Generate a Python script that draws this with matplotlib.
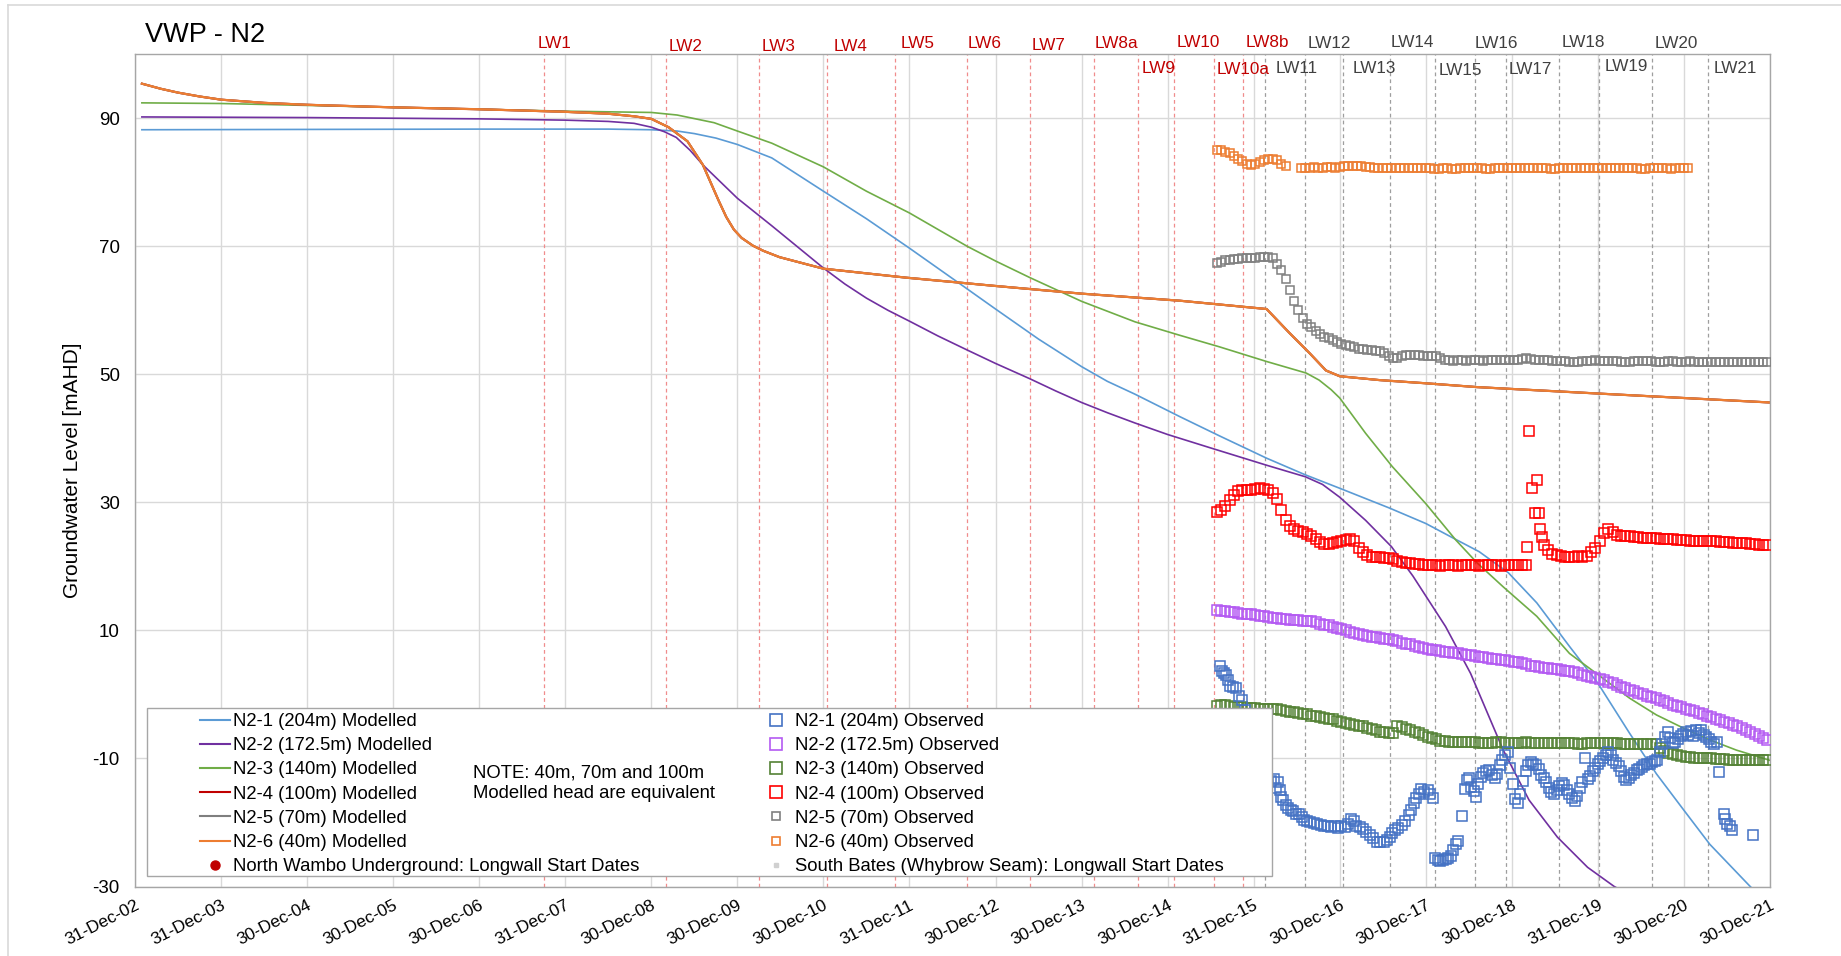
import numpy as np
import matplotlib
matplotlib.use("Agg")
import matplotlib.pyplot as plt
from matplotlib.lines import Line2D
from matplotlib.patches import Rectangle
from matplotlib.transforms import offset_copy

plt.rcParams['font.family'] = ['Liberation Sans', 'DejaVu Sans']
plt.rcParams['axes.unicode_minus'] = False

# ----------------------------------------------------------------- data
x_tick_labels = ['31-Dec-02', '31-Dec-03', '30-Dec-04', '30-Dec-05', '30-Dec-06',
                 '31-Dec-07', '30-Dec-08', '30-Dec-09', '30-Dec-10', '31-Dec-11',
                 '30-Dec-12', '30-Dec-13', '30-Dec-14', '31-Dec-15', '30-Dec-16',
                 '30-Dec-17', '30-Dec-18', '31-Dec-19', '30-Dec-20', '30-Dec-21']
x_first_year = 2003.0          # 31-Dec-02 expressed as decimal year
y_ticks = [-30, -10, 10, 30, 50, 70, 90]

# Modelled heads (decimal year, mAHD)
n21_mod_t = [2003.08, 2005.0, 2007.0, 2008.5, 2009.0, 2009.3, 2009.5, 2009.75, 2010.0, 2010.4,
             2011.0, 2011.5, 2012.0, 2012.58, 2013.0, 2013.5, 2014.0, 2014.3, 2014.62, 2015.14,
             2015.6, 2016.15, 2016.6, 2017.0, 2017.58, 2018.0, 2018.35, 2018.62, 2018.96, 2019.29,
             2019.67, 2020.0, 2020.37, 2020.68, 2021.0, 2021.3, 2021.77, 2022.0]
n21_mod_v = [88.2, 88.25, 88.3, 88.3, 88.2, 88.0, 87.6, 86.9, 85.9, 83.8,
             78.6, 74.3, 69.7, 64.2, 60.2, 55.5, 51.2, 48.9, 46.9, 43.4,
             40.4, 36.9, 34.3, 32.2, 29.1, 26.7, 24.2, 22.3, 19.0, 14.3,
             7.5, 1.75, -6.1, -12.4, -18.1, -23.4, -30.0, -33.0]

n22_mod_t = [2003.08, 2005.0, 2007.0, 2008.0, 2008.5, 2008.8, 2009.0, 2009.15, 2009.29, 2009.45,
             2009.6, 2010.0, 2010.4, 2011.0, 2011.25, 2011.5, 2011.75, 2012.0, 2012.33, 2012.67,
             2013.0, 2013.4, 2013.7, 2014.0, 2014.3, 2014.62, 2015.0, 2015.5, 2016.15, 2016.6,
             2016.8, 2017.0, 2017.3, 2017.6, 2017.85, 2018.23, 2018.52, 2018.9, 2019.2, 2019.53,
             2019.88, 2020.19, 2020.6]
n22_mod_v = [90.2, 90.1, 89.9, 89.7, 89.5, 89.2, 88.6, 87.9, 87.0, 85.0,
             82.7, 77.5, 73.2, 66.6, 64.1, 61.9, 60.0, 58.3, 56.0, 53.8,
             51.7, 49.3, 47.4, 45.6, 44.0, 42.4, 40.6, 38.5, 35.8, 34.0,
             32.8, 30.8, 27.2, 23.1, 18.5, 10.6, 3.3, -8.7, -16.5, -22.3,
             -27.0, -30.0, -33.0]

n23_mod_t = [2003.08, 2004.0, 2005.0, 2006.0, 2007.0, 2008.0, 2008.5, 2009.0, 2009.3, 2009.73,
             2010.0, 2010.4, 2011.0, 2011.5, 2012.0, 2012.67, 2013.0, 2013.4, 2014.0, 2014.62,
             2015.14, 2015.6, 2016.15, 2016.61, 2016.76, 2016.9, 2017.0, 2017.3, 2017.61, 2018.0,
             2018.35, 2018.6, 2018.9, 2019.29, 2019.67, 2020.0, 2020.37, 2020.68, 2021.0, 2021.3,
             2021.61, 2022.0]
n23_mod_v = [92.4, 92.3, 92.0, 91.7, 91.4, 91.1, 91.0, 90.9, 90.5, 89.3,
             88.0, 86.1, 82.4, 78.6, 75.2, 70.0, 67.7, 65.1, 61.4, 58.2,
             56.1, 54.3, 52.0, 50.2, 49.1, 47.6, 46.3, 40.8, 35.6, 29.8,
             24.1, 20.5, 16.8, 12.2, 6.4, 3.1, -0.6, -3.2, -5.3, -7.1,
             -8.7, -10.3]

# N2-4, N2-5 and N2-6 modelled heads are equivalent (one shared curve)
n26_mod_t = [2003.08, 2003.3, 2003.5, 2003.75, 2004.0, 2004.5, 2005.0, 2006.0, 2007.0, 2008.0,
             2008.5, 2008.8, 2009.0, 2009.2, 2009.42, 2009.6, 2009.78, 2009.87, 2009.96, 2010.05,
             2010.18, 2010.3, 2010.49, 2011.0, 2011.96, 2013.0, 2014.0, 2015.14, 2016.15, 2016.42,
             2016.65, 2016.84, 2017.0, 2017.46, 2018.0, 2018.6, 2020.0, 2022.0]
n26_mod_v = [95.4, 94.6, 94.0, 93.4, 92.9, 92.4, 92.1, 91.7, 91.4, 91.0,
             90.7, 90.3, 89.9, 88.6, 86.4, 82.7, 77.2, 74.6, 72.6, 71.3,
             70.1, 69.3, 68.3, 66.5, 65.1, 63.8, 62.6, 61.5, 60.2, 56.4,
             53.3, 50.6, 49.7, 49.1, 48.6, 48.0, 47.0, 45.6]

# Observed heads: regular logger readings every 0.05 yr from the given start
obs_step = 0.05

n26_obs_a_start = 2015.57
n26_obs_a_v = [85.1, 85.0, 84.8, 84.5, 84.1, 83.7, 83.3, 82.9, 82.7, 82.9,
               83.2, 83.5, 83.6, 83.6, 83.4, 82.9, 82.6]
n26_obs_b_start = 2016.55
n26_obs_b_v = [82.3, 82.3, 82.3, 82.4, 82.3, 82.3, 82.4, 82.4, 82.3, 82.4,
               82.5, 82.6, 82.6, 82.5, 82.5, 82.4, 82.4, 82.3, 82.3, 82.3,
               82.3, 82.2, 82.3, 82.3, 82.2, 82.2, 82.2, 82.3, 82.2, 82.2,
               82.2, 82.1, 82.1, 82.2, 82.2, 82.1, 82.1, 82.2, 82.2, 82.2,
               82.2, 82.2, 82.2, 82.1, 82.1, 82.2, 82.2, 82.2, 82.3, 82.3,
               82.3, 82.2, 82.2, 82.2, 82.3, 82.3, 82.2, 82.2, 82.1, 82.1,
               82.2, 82.2, 82.3, 82.3, 82.2, 82.2, 82.2, 82.3, 82.3, 82.2,
               82.2, 82.2, 82.2, 82.3, 82.2, 82.2, 82.2, 82.2, 82.2, 82.1,
               82.1, 82.2, 82.2, 82.2, 82.2, 82.2, 82.1, 82.2, 82.2, 82.2, 82.2]

n25_obs_start = 2015.57
n25_obs_v = [67.4, 67.6, 67.8, 67.9, 68.0, 68.0, 68.1, 68.1, 68.2, 68.2,
             68.3, 68.3, 68.3, 68.2, 67.2, 66.3, 64.9, 63.2, 61.5, 60.0,
             58.8, 57.9, 57.4, 56.8, 56.3, 55.9, 55.6, 55.3, 55.0, 54.8,
             54.6, 54.4, 54.2, 54.0, 53.9, 53.8, 53.8, 53.7, 53.7, 53.3,
             52.9, 52.6, 52.6, 52.8, 53.0, 53.0, 53.0, 53.0, 52.9, 52.9,
             52.9, 52.8, 52.5, 52.2, 52.2, 52.1, 52.2, 52.2, 52.1, 52.2,
             52.2, 52.2, 52.1, 52.2, 52.2, 52.3, 52.2, 52.2, 52.2, 52.3,
             52.3, 52.4, 52.5, 52.4, 52.3, 52.2, 52.2, 52.2, 52.1, 52.1,
             52.1, 52.1, 52.0, 52.0, 52.0, 52.1, 52.1, 52.1, 52.2, 52.1,
             52.1, 52.1, 52.1, 52.1, 52.0, 52.0, 52.0, 52.1, 52.1, 52.1,
             52.1, 52.1, 52.0, 52.0, 52.0, 52.1, 52.1, 52.0, 52.0, 52.0,
             52.1, 52.0, 52.0, 52.0, 52.0, 52.0, 51.9, 51.9, 52.0, 52.0,
             52.0, 51.9, 51.9, 51.9, 51.9, 51.9, 51.9, 51.9, 51.9]

n24_obs_a_start = 2015.57
n24_obs_a_v = [28.5, 28.8, 29.4, 30.4, 31.2, 31.7, 31.9, 31.9, 32.0, 32.1,
               32.2, 32.1, 31.9, 31.4, 30.5, 28.8, 27.2, 26.3, 25.8, 25.5,
               25.4, 25.0, 24.7, 24.3, 23.8, 23.5, 23.5, 23.6, 23.8, 24.0,
               24.1, 24.2, 24.0, 22.8, 22.2, 21.8, 21.5, 21.4, 21.4, 21.3,
               21.3, 21.2, 20.9, 20.7, 20.5, 20.5, 20.3, 20.3, 20.2, 20.2,
               20.2, 20.2, 20.1, 20.2, 20.2, 20.2, 20.1, 20.2, 20.2, 20.2,
               20.2, 20.1, 20.2, 20.2, 20.2, 20.2, 20.1, 20.2, 20.2, 20.2,
               20.2, 20.2, 20.2]
n24_obs_mid_t = [2019.18, 2019.20, 2019.23, 2019.27, 2019.29, 2019.32, 2019.33, 2019.35]
n24_obs_mid_v = [23.0, 41.1, 32.2, 28.4, 33.5, 28.4, 25.9, 24.6]
n24_obs_b_start = 2019.37
n24_obs_b_v = [23.3, 22.6, 22.0, 21.8, 21.6, 21.5, 21.5, 21.5, 21.6, 21.5,
               21.7, 22.2, 22.9, 24.0, 25.2, 25.8, 25.4, 24.9, 24.8, 24.7,
               24.7, 24.6, 24.6, 24.5, 24.5, 24.4, 24.4, 24.3, 24.3, 24.2,
               24.2, 24.1, 24.1, 24.1, 24.0, 24.0, 24.0, 23.9, 23.9, 23.9,
               23.9, 23.8, 23.8, 23.8, 23.7, 23.7, 23.6, 23.6, 23.5, 23.5,
               23.4, 23.4, 23.3]

n22_obs_start = 2015.57
n22_obs_v = [13.2, 13.1, 13.0, 12.9, 12.8, 12.7, 12.6, 12.5, 12.5, 12.4,
             12.3, 12.2, 12.1, 12.0, 11.9, 11.8, 11.8, 11.7, 11.6, 11.6,
             11.5, 11.5, 11.4, 11.3, 11.0, 10.9, 10.8, 10.6, 10.4, 10.2,
             10.1, 9.8, 9.6, 9.4, 9.3, 9.1, 9.0, 8.9, 8.8, 8.7,
             8.6, 8.5, 8.3, 8.1, 7.9, 7.8, 7.6, 7.4, 7.2, 7.1,
             7.0, 6.9, 6.8, 6.7, 6.6, 6.5, 6.4, 6.3, 6.2, 6.1,
             6.0, 5.9, 5.8, 5.7, 5.6, 5.5, 5.4, 5.3, 5.2, 5.1,
             5.0, 4.9, 4.7, 4.5, 4.4, 4.3, 4.2, 4.1, 4.0, 3.9,
             3.8, 3.7, 3.6, 3.5, 3.3, 3.1, 2.9, 2.7, 2.5, 2.4,
             2.2, 2.0, 1.8, 1.5, 1.2, 1.0, 0.7, 0.5, 0.3, 0.0,
             -0.2, -0.4, -0.6, -0.9, -1.1, -1.3, -1.6, -1.8, -2.0, -2.2,
             -2.4, -2.6, -2.9, -3.1, -3.3, -3.6, -3.8, -4.0, -4.3, -4.5,
             -4.7, -5.0, -5.3, -5.6, -5.9, -6.2, -6.5, -6.8, -7.1]

n23_obs_start = 2015.57
n23_obs_v = [-1.8, -1.7, -1.7, -1.8, -1.9, -2.0, -2.0, -2.1, -2.1, -2.1,
             -2.2, -2.2, -2.3, -2.3, -2.3, -2.4, -2.6, -2.7, -2.8, -2.9,
             -3.0, -3.1, -3.3, -3.4, -3.6, -3.7, -3.8, -3.9, -4.1, -4.3,
             -4.5, -4.6, -4.8, -4.9, -5.0, -5.2, -5.4, -5.6, -5.8, -5.9,
             -6.0, -6.1, -4.9, -5.1, -5.4, -5.6, -5.8, -6.1, -6.4, -6.6,
             -6.8, -7.0, -7.2, -7.3, -7.4, -7.4, -7.5, -7.5, -7.5, -7.5,
             -7.5, -7.6, -7.6, -7.6, -7.6, -7.5, -7.5, -7.6, -7.6, -7.6,
             -7.6, -7.6, -7.5, -7.6, -7.6, -7.6, -7.6, -7.6, -7.6, -7.6,
             -7.6, -7.6, -7.6, -7.6, -7.7, -7.7, -7.6, -7.6, -7.6, -7.6,
             -7.6, -7.6, -7.6, -7.6, -7.7, -7.7, -7.7, -7.7, -7.7, -7.7,
             -7.7, -7.7, -7.8, -8.3, -8.8, -9.1, -9.3, -9.5, -9.6, -9.7,
             -9.8, -9.9, -9.9, -10.0, -10.0, -10.0, -10.1, -10.1, -10.1, -10.2,
             -10.2, -10.2, -10.2, -10.3, -10.3, -10.3, -10.3, -10.3, -10.3]

n21_obs_t = [2015.61, 2015.63, 2015.65, 2015.68, 2015.70, 2015.72, 2015.76, 2015.80, 2015.83, 2015.86,
             2015.90, 2015.95, 2016.00, 2016.05, 2016.10, 2016.15, 2016.20, 2016.24, 2016.26, 2016.28,
             2016.30, 2016.32, 2016.34, 2016.37, 2016.40, 2016.43, 2016.46, 2016.49, 2016.53, 2016.56,
             2016.59, 2016.62, 2016.66, 2016.70, 2016.74, 2016.78, 2016.82, 2016.86, 2016.90, 2016.94,
             2016.98, 2017.02, 2017.06, 2017.10, 2017.13, 2017.16, 2017.19, 2017.23, 2017.27, 2017.31,
             2017.35, 2017.39, 2017.43, 2017.47, 2017.51, 2017.55, 2017.58, 2017.61, 2017.64, 2017.68,
             2017.72, 2017.76, 2017.80, 2017.83, 2017.86, 2017.89, 2017.92, 2017.95, 2017.98, 2018.02,
             2018.05, 2018.08, 2018.11, 2018.14, 2018.17, 2018.20, 2018.23, 2018.26, 2018.29, 2018.32,
             2018.35, 2018.37, 2018.42, 2018.45, 2018.48, 2018.50, 2018.53, 2018.56, 2018.58, 2018.61,
             2018.64, 2018.67, 2018.70, 2018.74, 2018.77, 2018.80, 2018.83, 2018.86, 2018.89, 2018.92,
             2018.95, 2018.98, 2019.01, 2019.04, 2019.07, 2019.10, 2019.13, 2019.16, 2019.19, 2019.22,
             2019.25, 2019.28, 2019.31, 2019.34, 2019.37, 2019.40, 2019.43, 2019.46, 2019.49, 2019.52,
             2019.55, 2019.58, 2019.61, 2019.64, 2019.67, 2019.70, 2019.73, 2019.76, 2019.79, 2019.82,
             2019.85, 2019.88, 2019.91, 2019.94, 2019.97, 2020.00, 2020.03, 2020.06, 2020.09, 2020.12,
             2020.15, 2020.18, 2020.21, 2020.24, 2020.27, 2020.30, 2020.33, 2020.36, 2020.39, 2020.42,
             2020.45, 2020.48, 2020.51, 2020.54, 2020.57, 2020.60, 2020.63, 2020.66, 2020.69, 2020.72,
             2020.75, 2020.78, 2020.81, 2020.84, 2020.87, 2020.90, 2020.93, 2020.96, 2020.99, 2021.02,
             2021.05, 2021.08, 2021.11, 2021.14, 2021.17, 2021.20, 2021.23, 2021.26, 2021.29, 2021.32,
             2021.35, 2021.38, 2021.41, 2021.46, 2021.48, 2021.50, 2021.53, 2021.56, 2021.80]
n21_obs_v = [4.4, 3.6, 3.3, 3.1, 2.2, 1.3, 1.1, 1.0, -0.3, -0.8,
             -2.5, -4.5, -7.0, -9.5, -11.5, -12.8, -13.5, -13.2, -14.6, -13.7,
             -15.0, -16.0, -16.5, -17.2, -17.8, -18.0, -18.2, -18.6, -18.6, -19.2,
             -19.6, -19.7, -19.9, -20.1, -20.3, -20.4, -20.6, -20.5, -20.7, -20.6,
             -20.8, -20.6, -20.7, -20.2, -19.4, -19.8, -20.5, -20.7, -21.0, -21.5,
             -21.9, -22.4, -23.0, -23.1, -23.0, -22.7, -22.3, -21.7, -21.2, -20.8,
             -20.4, -19.8, -18.9, -18.0, -17.0, -16.2, -15.5, -14.8, -15.3, -14.9,
             -15.6, -16.2, -25.5, -25.9, -26.0, -25.8, -25.7, -25.6, -25.3, -24.3,
             -23.3, -22.9, -19.0, -14.7, -13.4, -13.0, -14.4, -15.1, -16.0, -14.0,
             -12.9, -12.3, -11.9, -11.8, -12.6, -13.0, -12.4, -11.0, -10.3, -9.5,
             -9.0, -11.5, -14.0, -16.4, -17.0, -15.6, -13.5, -12.0, -11.0, -10.6,
             -10.9, -11.0, -11.6, -12.6, -13.0, -13.6, -14.6, -15.3, -15.6, -15.0,
             -14.3, -13.9, -14.2, -15.0, -15.6, -16.2, -16.6, -15.8, -14.6, -13.6,
             -9.9, -13.2, -12.7, -12.0, -11.5, -10.9, -10.4, -9.9, -9.4, -9.0,
             -9.5, -10.3, -10.7, -11.2, -12.0, -12.9, -13.4, -13.0, -12.6, -12.2,
             -11.8, -11.6, -11.3, -11.1, -10.9, -10.8, -10.6, -10.4, -10.2, -9.0,
             -7.8, -6.6, -5.8, -6.8, -7.6, -7.4, -7.0, -6.5, -6.2, -5.9,
             -6.3, -5.7, -6.5, -5.6, -6.0, -5.5, -6.3, -6.6, -7.0, -7.4,
             -7.8, -7.5, -12.1, -18.6, -19.5, -20.2, -20.6, -21.2, -22.0]

# Longwall start dates (decimal years)
nw_lw_names = ['LW1', 'LW2', 'LW3', 'LW4', 'LW5', 'LW6', 'LW7', 'LW8a', 'LW9', 'LW10',
               'LW10a', 'LW8b']
nw_lw_dates = [2007.75, 2009.167, 2010.25, 2011.042, 2011.837, 2012.673, 2013.406, 2014.15,
               2014.651, 2015.076, 2015.535, 2015.871]
sb_lw_names = ['LW11', 'LW12', 'LW13', 'LW14', 'LW15', 'LW16', 'LW17', 'LW18', 'LW19',
               'LW20', 'LW21']
sb_lw_dates = [2016.136, 2016.594, 2017.042, 2017.58, 2018.111, 2018.568, 2018.931, 2019.544,
               2020.013, 2020.633, 2021.276]

# label layout (y in data units, x offset in pixels)
nw_label_y = [101.7, 101.2, 101.2, 101.2, 101.7, 101.7, 101.3, 101.7, 97.8, 101.8, 97.65, 101.8]
nw_label_dx = [-6, 3, 3, 7, 5, 0, 1, 0, 4, 2, 3, 3]
sb_label_y = [97.8, 101.6, 97.8, 101.8, 97.4, 101.6, 97.65, 101.8, 98.05, 101.6, 97.8]
sb_label_dx = [10, 3, 9, 1, 3, 0, 3, 3, 6, 2, 6]


def regular_times(start, values):
    return start + obs_step * np.arange(len(values))


# ----------------------------------------------------------------- figure
W, H = 1841, 956
fig = plt.figure(figsize=(W / 100, H / 100), dpi=100)


def fx(px):
    return px / W


def fy(py):
    return 1 - py / H


L, R, T, B = 135, 1770, 54.2, 886.5
ax = fig.add_axes([fx(L), fy(B), fx(R) - fx(L), fy(T) - fy(B)])
ax.set_xlim(x_first_year, x_first_year + len(x_tick_labels) - 1)
ax.set_ylim(-30, 100)
ax.set_xticks(x_first_year + np.arange(len(x_tick_labels)))
ax.set_xticklabels(x_tick_labels, rotation=27, ha='right', rotation_mode='anchor',
                   fontsize=12.5)
ax.set_yticks(y_ticks)
ax.tick_params(axis='both', length=0, colors='black')
ax.tick_params(axis='y', pad=11, labelsize=13.5)
ax.tick_params(axis='x', pad=8)
ax.grid(True, color='#D9D9D9', lw=1.0)
ax.set_axisbelow(True)
for s in ax.spines.values():
    s.set_color('#A6A6A6')
    s.set_linewidth(1.0)

# longwall lines + labels
for name, d, yv, dx in zip(nw_lw_names, nw_lw_dates, nw_label_y, nw_label_dx):
    ax.axvline(d, color='#F08C8C', lw=0.9, ls=(0, (3, 2.5)), zorder=1)
    tr = offset_copy(ax.transData, fig=fig, x=dx, y=0, units='dots')
    ax.text(d, yv, name, transform=tr, color='#C00000', fontsize=12.3,
            ha='left', va='center', clip_on=False)
for name, d, yv, dx in zip(sb_lw_names, sb_lw_dates, sb_label_y, sb_label_dx):
    ax.axvline(d, color='#9E9E9E', lw=0.9, ls=(0, (3, 2.5)), zorder=1)
    tr = offset_copy(ax.transData, fig=fig, x=dx, y=0, units='dots')
    ax.text(d, yv, name, transform=tr, color='#404040', fontsize=12.3,
            ha='left', va='center', clip_on=False)

# modelled
c_mod = {'n21': '#5B9BD5', 'n22': '#7030A0', 'n23': '#70AD47',
         'n24': '#C00000', 'n25': '#7F7F7F', 'n26': '#ED7D31'}
ax.plot(n21_mod_t, n21_mod_v, color=c_mod['n21'], lw=1.2, zorder=2)
ax.plot(n22_mod_t, n22_mod_v, color=c_mod['n22'], lw=1.2, zorder=2)
ax.plot(n23_mod_t, n23_mod_v, color=c_mod['n23'], lw=1.2, zorder=2)
ax.plot(n26_mod_t, n26_mod_v, color=c_mod['n24'], lw=1.5, zorder=2)
ax.plot(n26_mod_t, n26_mod_v, color=c_mod['n25'], lw=1.5, zorder=2)
ax.plot(n26_mod_t, n26_mod_v, color=c_mod['n26'], lw=1.6, zorder=2)

# observed
c_obs = {'n21': '#4472C4', 'n22': '#B45AF2', 'n23': '#548235',
         'n24': '#FF0000', 'n25': '#808080', 'n26': '#ED7D31'}
big = dict(ls='none', marker='s', mfc='none', ms=7.8, mew=1.1, zorder=3)
small = dict(ls='none', marker='s', mfc='none', ms=5.4, mew=1.1, zorder=3)
ax.plot(regular_times(n26_obs_a_start, n26_obs_a_v), n26_obs_a_v, mec=c_obs['n26'], **small)
ax.plot(regular_times(n26_obs_b_start, n26_obs_b_v), n26_obs_b_v, mec=c_obs['n26'], **small)
ax.plot(regular_times(n25_obs_start, n25_obs_v), n25_obs_v, mec=c_obs['n25'], **small)
ax.plot(regular_times(n24_obs_a_start, n24_obs_a_v), n24_obs_a_v, mec=c_obs['n24'], **big)
ax.plot(n24_obs_mid_t, n24_obs_mid_v, mec=c_obs['n24'], **big)
ax.plot(regular_times(n24_obs_b_start, n24_obs_b_v), n24_obs_b_v, mec=c_obs['n24'], **big)
ax.plot(regular_times(n22_obs_start, n22_obs_v), n22_obs_v, mec=c_obs['n22'], **big)
ax.plot(regular_times(n23_obs_start, n23_obs_v), n23_obs_v, mec=c_obs['n23'], **big)
ax.plot(n21_obs_t, n21_obs_v, mec=c_obs['n21'], **big)

# ----------------------------------------------------------------- legend
frame = Rectangle((fx(147), fy(876)), fx(1272) - fx(147), fy(708) - fy(876),
                  transform=fig.transFigure, facecolor='white', edgecolor='#A6A6A6',
                  lw=1.0, zorder=5)
fig.add_artist(frame)

leg_fs = 13.3
left_handles = [Line2D([], [], color=c_mod[k], lw=1.5) for k in
                ['n21', 'n22', 'n23', 'n24', 'n25', 'n26']]
left_handles.append(Line2D([], [], ls='none', marker='o', ms=6.5, color='#C00000'))
left_labels = ['N2-1 (204m) Modelled', 'N2-2 (172.5m) Modelled', 'N2-3 (140m) Modelled',
               'N2-4 (100m) Modelled', 'N2-5 (70m) Modelled', 'N2-6 (40m) Modelled',
               'North Wambo Underground: Longwall Start Dates']
leg1 = fig.legend(left_handles, left_labels, loc='upper left',
                  bbox_to_anchor=(fx(200), fy(713)), bbox_transform=fig.transFigure,
                  frameon=False, fontsize=leg_fs, handlelength=1.65, handletextpad=0.15,
                  labelspacing=0.39, borderpad=0, borderaxespad=0)
leg1.set_zorder(6)

right_handles = []
for k in ['n21', 'n22', 'n23', 'n24']:
    right_handles.append(Line2D([], [], ls='none', marker='s', mfc='none', mec=c_obs[k],
                                ms=8, mew=1.2))
for k in ['n25', 'n26']:
    right_handles.append(Line2D([], [], ls='none', marker='s', mfc='none', mec=c_obs[k],
                                ms=5.5, mew=1.2))
right_handles.append(Line2D([], [], ls='none', marker='s', ms=3, color='#D0D0D0'))
right_labels = ['N2-1 (204m) Observed', 'N2-2 (172.5m) Observed', 'N2-3 (140m) Observed',
                'N2-4 (100m) Observed', 'N2-5 (70m) Observed', 'N2-6 (40m) Observed',
                'South Bates (Whybrow Seam): Longwall Start Dates']
leg2 = fig.legend(right_handles, right_labels, loc='upper left',
                  bbox_to_anchor=(fx(764), fy(713)), bbox_transform=fig.transFigure,
                  frameon=False, fontsize=leg_fs, handlelength=1.3, handletextpad=0.38,
                  labelspacing=0.39, borderpad=0, borderaxespad=0)
leg2.set_zorder(6)

fig.text(fx(473), fy(772.5), 'NOTE: 40m, 70m and 100m', fontsize=leg_fs,
         va='center', ha='left', zorder=6)
fig.text(fx(473), fy(793.6), 'Modelled head are equivalent', fontsize=leg_fs,
         va='center', ha='left', zorder=6)

# ----------------------------------------------------------------- titles & border
fig.text(fx(145), fy(35), 'VWP - N2', fontsize=19.5, va='center', ha='left')
fig.text(fx(73), fy(470), 'Groundwater Level [mAHD]', rotation=90, fontsize=15,
         va='center', ha='center')
fig.add_artist(Line2D([fx(8), 1.0], [fy(5), fy(5)], transform=fig.transFigure,
                      color='#D9D9D9', lw=1.2))
fig.add_artist(Line2D([fx(8), fx(8)], [fy(5), 0.0], transform=fig.transFigure,
                      color='#D9D9D9', lw=1.2))

fig.savefig('out.png', dpi=100)
